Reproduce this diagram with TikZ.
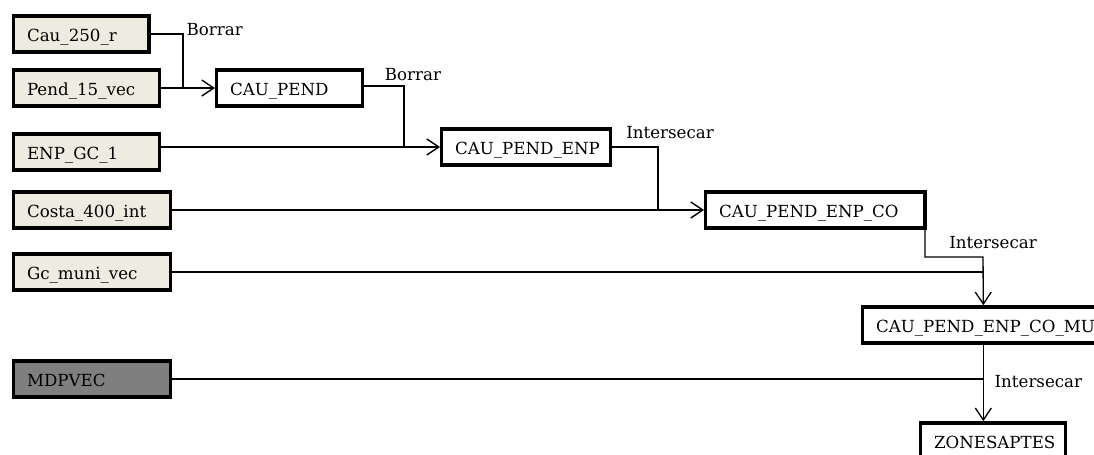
\documentclass[tikz,border=0pt]{standalone}
\usepackage{fontspec}
\setmainfont{DejaVu Serif}
\usepackage{xcolor}
\usepackage{tikz}
\usetikzlibrary{arrows.meta}

\definecolor{layerfill}{HTML}{EEECE1}
\definecolor{maskfill}{HTML}{7F7F7F}

\tikzset{
  box/.style={draw, line width=2.5pt, anchor=west, minimum height=27.2pt,
    inner xsep=10pt, align=left, text width=#1, text height=11.5pt, text depth=0pt},
  layer/.style={box=#1, fill=layerfill},
  mask/.style={box=#1, fill=maskfill},
  wire/.style={line width=1pt},
  feed/.style={wire, -{Straight Barb[length=9pt,width=12pt]}},
  op/.style={inner sep=1pt},
}

\begin{document}
\begin{tikzpicture}[x=0.75pt, y=-0.75pt,
  every node/.style={font=\fontsize{12.5pt}{15pt}\selectfont}]

\useasboundingbox (0,0) rectangle (1094,454);
\clip (0,0) rectangle (1094,454);

% input layers
\node [layer=81.5pt] (cau) at (12,34) {Cau\_250\_r};
\node [layer=89.5pt] (pend) at (12,88) {Pend\_15\_vec};
\node [layer=89.5pt] (enp) at (12,152) {ENP\_GC\_1};
\node [layer=97.5pt] (costa) at (12,210) {Costa\_400\_int};
\node [layer=97.5pt] (gc) at (12,272) {Gc\_muni\_vec};
\node [mask=97.5pt] (mdp) at (12,379) {MDPVEC};

% results
\node [box=89.5pt] (caupend) at (215,88) {CAU\_PEND};
\node [box=106.5pt] (cpe) at (440,147) {CAU\_PEND\_ENP};
\node [box=144.5pt] (cpeco) at (704,210) {CAU\_PEND\_ENP\_CO};
\node [box=161pt] (mu) at (861,325) {CAU\_PEND\_ENP\_CO\_MU};
\node [box=88.5pt] (zon) at (919,441) {ZONESAPTES};

% operations
\node [op, anchor=west] (borrar1) at (185,30) {Borrar};
\node [op] (borrar2) at (413,75) {Borrar};
\node [op] (inter1) at (670,133) {Intersecar};
\node [op] (inter2) at (993,243) {Intersecar};
\node [op, anchor=west] (inter3) at (993,382) {Intersecar};

\coordinate (j1) at (183,88);
\coordinate (j2) at (404,147);
\coordinate (j3) at (658,210);
\coordinate (j4) at (983,257);

\draw [wire] (cau.east) -| (j1);
\draw [feed] (pend.east) -- (caupend.west);

\draw [wire] ([yshift=1.5pt]caupend.east) -| (j2);
\draw [feed] (enp.east |- cpe.west) -- (cpe.west);

\draw [wire] (cpe.east) -| (j3);
\draw [feed] (costa.east) -- (cpeco.west);

\draw [feed] ([xshift=-1.3pt]cpeco.south east) |- (j4) -- (mu.north);
\draw [wire] (gc.east) -- (gc.east -| mu.north);

\draw [feed] (mu.south) -- (mu.south |- zon.north);
\draw [wire] (mdp.east) -- (mdp.east -| mu.south);
\end{tikzpicture}
\end{document}
